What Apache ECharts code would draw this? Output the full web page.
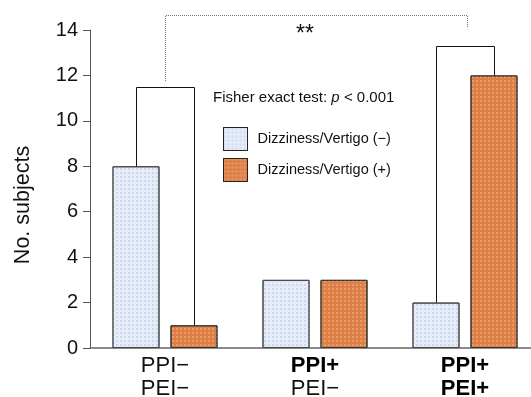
<!DOCTYPE html>
<html><head><meta charset="utf-8">
<script src="https://cdn.jsdelivr.net/npm/echarts@6/dist/echarts.min.js"></script>
<style>html,body{margin:0;padding:0;background:#fff}#c{width:531px;height:397px}</style>
</head><body><div id="c"></div>
<script>
var categories = [['PPI−','PEI−'], ['PPI+','PEI−'], ['PPI+','PEI+']];
var boldLines = [[false,false],[true,false],[true,true]];
var negValues = [8, 3, 2];
var posValues = [1, 3, 12];
var seriesNames = ['Dizziness/Vertigo (−)', 'Dizziness/Vertigo (+)'];
var yTicks = [0, 2, 4, 6, 8, 10, 12, 14];
// bracket per group: [categoryIndex, topValue] (legs reach bar tops)
var brackets = [[0, 11.5], [2, 13.3]];
// dotted comparison bracket: [leftCat, rightCat, leftBottom, topValue, rightBottom]
var compareBracket = [0, 2, 11.5, 14.66, 14.1];
var annotationText = 'Fisher exact test: ';

var BAR_W = 47, GAP = 11;
var FONT = 'Liberation Sans, Arial, sans-serif';
var chart = echarts.init(document.getElementById('c'), null, {renderer:'canvas'});
var catLabels = categories.map(function(c){return c.join('\n');});
var blueDecal = {symbol:'rect', symbolSize:1, dashArrayX:[2,2], dashArrayY:[2,2], color:'rgba(195,210,237,0.8)', rotation:0};
var orangeDecal = {symbol:'rect', symbolSize:1, dashArrayX:[2,2], dashArrayY:[2,2], color:'rgba(245,175,120,0.6)', rotation:0};

chart.setOption({
  animation:false,
  textStyle:{fontFamily:FONT},
  grid:{left:90, top:30, width:450, height:318, containLabel:false, outerBoundsMode:'none'},
  xAxis:{type:'category', data:catLabels,
    axisLine:{lineStyle:{color:'#666', width:1.5}}, axisTick:{show:false},
    axisLabel:{interval:0, margin:6, lineHeight:23, color:'#111',
      formatter:function(v){
        var idx = catLabels.indexOf(v);
        var parts = v.split('\n');
        return parts.map(function(p,k){return (boldLines[idx][k]?'{b|':'{n|')+p+'}';}).join('\n');
      },
      rich:{n:{fontSize:22, color:'#111', lineHeight:23, fontFamily:FONT},
            b:{fontSize:22, fontWeight:'bold', color:'#000', lineHeight:23, fontFamily:FONT}}}},
  yAxis:{type:'value', min:0, max:14, interval:2,
    name:'No. subjects', nameLocation:'middle', nameRotate:90, nameGap:56,
    nameTextStyle:{fontSize:21.5, color:'#111', padding:[0,32,0,0]},
    axisLine:{show:true, lineStyle:{color:'#555', width:1}},
    axisTick:{show:true, inside:false, length:7, lineStyle:{color:'#555'}},
    splitLine:{show:false},
    axisLabel:{fontSize:20, color:'#111', margin:12,
      formatter:function(v){return yTicks.indexOf(v)>=0?String(v):'';}}},
  legend:{orient:'vertical', left:218, top:122, itemWidth:24, itemHeight:23, itemGap:7, icon:'rect',
    itemStyle:{borderColor:'#222', borderWidth:1},
    textStyle:{fontSize:14.5, color:'#111', fontFamily:FONT, padding:[0,0,0,5]}, data:seriesNames, selectedMode:false},
  aria:{enabled:false},
  series:[
    {name:seriesNames[0], type:'bar', data:negValues, barWidth:BAR_W, barGap:(GAP/BAR_W*100)+'%',
     itemStyle:{color:'#e6edf8', borderColor:'#444', borderWidth:1, decal:blueDecal}},
    {name:seriesNames[1], type:'bar', data:posValues, barWidth:BAR_W,
     itemStyle:{color:'#dc8048', borderColor:'#333', borderWidth:1, decal:orangeDecal}},
    {type:'custom', data:brackets.map(function(b){return [b[0], b[1], negValues[b[0]], posValues[b[0]]];}),
     silent:true, z:5,
     renderItem:function(params, api){
       var cat = api.value(0), top = api.value(1), l = api.value(2), r = api.value(3);
       var off = (BAR_W + GAP)/2;
       var c = api.coord([cat, top]);
       var yl = api.coord([cat, l])[1], yr = api.coord([cat, r])[1];
       var xl = Math.round(c[0]-off)+0.5, xr = Math.round(c[0]+off)+0.5, yt = Math.round(c[1])+0.5;
       return {type:'polyline', shape:{points:[[xl,yl],[xl,yt],[xr,yt],[xr,yr]]},
         style:{stroke:'#111', lineWidth:1, fill:null}};
     }},
    {type:'custom', data:[compareBracket], silent:true, z:5,
     renderItem:function(params, api){
       var a = api.coord([api.value(0), api.value(2)]);
       var t = api.coord([api.value(0), api.value(3)]);
       var b = api.coord([api.value(1), api.value(4)]);
       var xa = Math.round(a[0])+0.5, xb = Math.round(b[0])+2.5, yt = Math.round(t[1])+0.5;
       return {type:'polyline', shape:{points:[[xa,Math.round(a[1])-6],[xa,yt],[xb,yt],[xb,b[1]]]},
         style:{stroke:'#777', lineWidth:1, lineDash:[1,1], fill:null}};
     }}
  ],
  graphic:[
    {type:'text', left:296, top:23, style:{text:'**', fontSize:23, fill:'#111', fontFamily:FONT}},
    {type:'text', left:213, top:90, style:{text:'{n|'+annotationText+'}{i|p}{n| < 0.001}',
      rich:{n:{fontSize:15, fill:'#111', fontFamily:FONT}, i:{fontSize:15, fontStyle:'italic', fill:'#111', fontFamily:FONT}}}}
  ]
});
</script></body></html>
